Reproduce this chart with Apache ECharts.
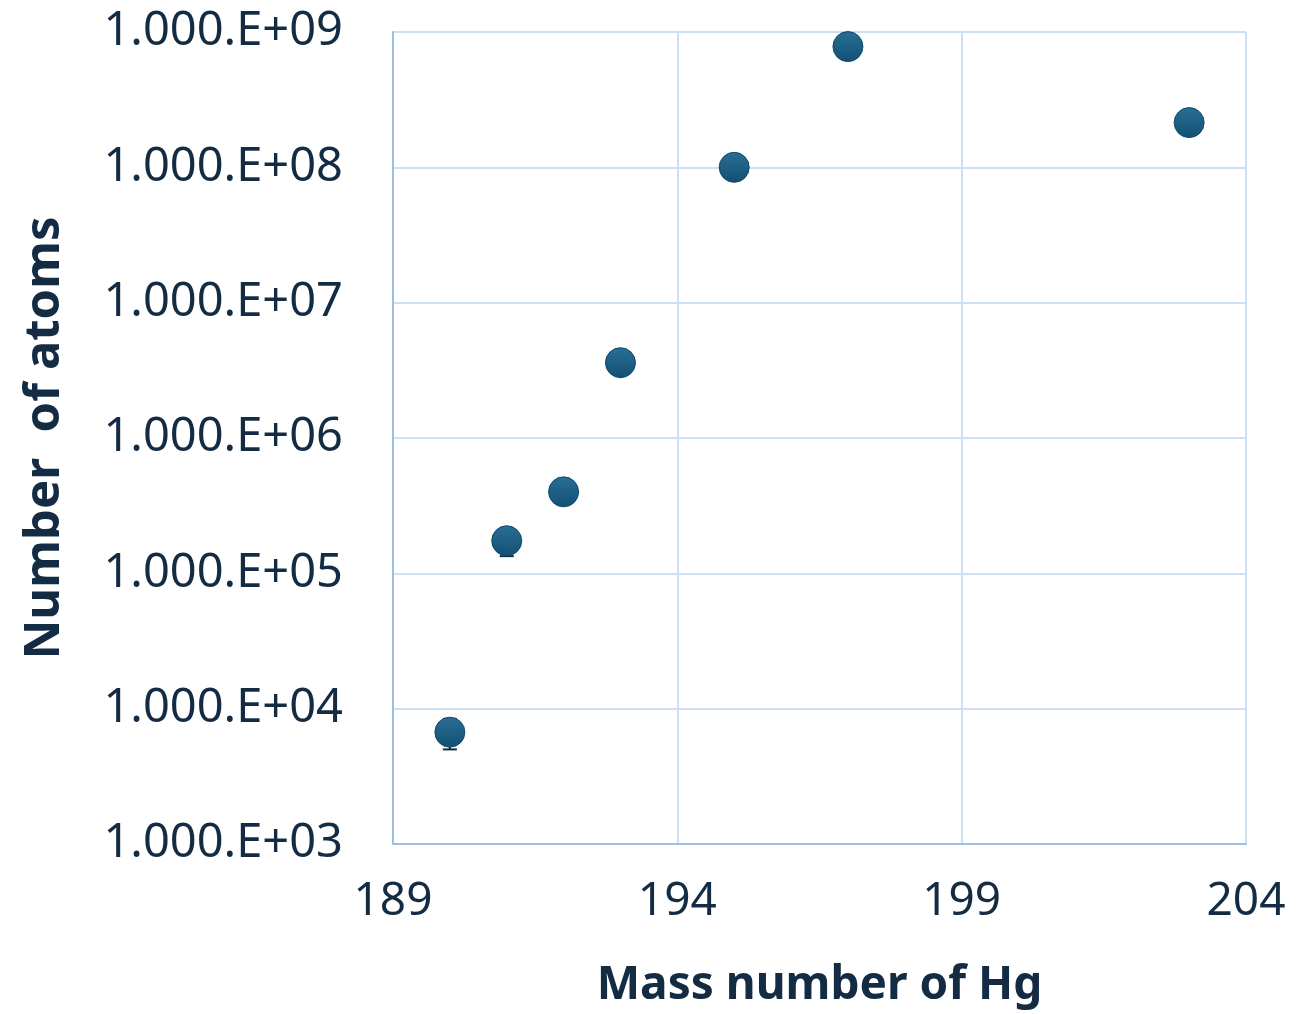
<!DOCTYPE html>
<html>
<head>
<meta charset="utf-8">
<script src="https://cdn.jsdelivr.net/npm/echarts@6/dist/echarts.min.js"></script>
<style>
html,body{margin:0;padding:0;background:#fff;}
#chart{width:1304px;height:1014px;}
</style>
</head>
<body>
<div id="chart"></div>
<script>
// Data
var massNumbers = [190, 191, 192, 193, 195, 197, 203];
var atomCounts = [6.7e3, 1.74e5, 4.0e5, 3.6e6, 1.0e8, 7.8e8, 2.14e8];
var atomErrors = [1.7e3, 0.40e5, 0, 0, 0, 0, 0];
var xTicks = [189, 194, 199, 204];
var yTickLabels = {3:'1.000.E+03',4:'1.000.E+04',5:'1.000.E+05',6:'1.000.E+06',7:'1.000.E+07',8:'1.000.E+08',9:'1.000.E+09'};
var xTitle = 'Mass number of Hg';
var yTitle = 'Number  of atoms';

var textColor = '#132b43';
var labelFont = '"Noto Sans", sans-serif';

var points = massNumbers.map(function(m, i){ return [m, atomCounts[i]]; });
var errData = massNumbers.map(function(m, i){ return [m, atomCounts[i] - atomErrors[i], atomCounts[i] + atomErrors[i]]; });

var chart = echarts.init(document.getElementById('chart'), null, {renderer:'canvas'});
chart.setOption({
  animation: false,
  backgroundColor: '#ffffff',
  grid: {left: 393, right: 58, top: 32, bottom: 167, containLabel: false},
  xAxis: {
    type: 'value', min: xTicks[0], max: xTicks[xTicks.length-1], interval: 5,
    name: xTitle, nameLocation: 'middle', nameGap: 119,
    nameTextStyle: {color: textColor, fontSize: 46, fontWeight: 'bold', fontFamily: labelFont},
    axisLine: {show: true, lineStyle: {color: '#9cbde4', width: 2}},
    axisTick: {show: false},
    axisLabel: {color: textColor, fontSize: 46, fontFamily: labelFont, margin: 35},
    splitLine: {show: true, lineStyle: {color: '#cfdff2', width: 2}}
  },
  yAxis: {
    type: 'log', logBase: 10, min: 1e3, max: 1e9,
    name: yTitle, nameLocation: 'middle', nameGap: 323, nameRotate: 90,
    nameTextStyle: {color: textColor, fontSize: 49, fontWeight: 'bold', fontFamily: labelFont},
    axisLine: {show: true, lineStyle: {color: '#9cbde4', width: 2}},
    axisTick: {show: false},
    axisLabel: {color: textColor, fontSize: 47, fontFamily: labelFont, margin: 50,
      formatter: function(v){ var e = Math.round(Math.log10(v)); return yTickLabels[e] || ''; }},
    splitLine: {show: true, lineStyle: {color: '#cfdff2', width: 2}}
  },
  series: [
    {
      type: 'custom',
      z: 1,
      renderItem: function(params, api){
        var x = api.value(0);
        var lo = api.coord([x, api.value(1)]);
        var hi = api.coord([x, api.value(2)]);
        if (Math.abs(lo[1]-hi[1]) < 0.5) return null;
        var cap = 7;
        return {type:'group', children:[
          {type:'line', shape:{x1:lo[0], y1:lo[1], x2:hi[0], y2:hi[1]}, style:{stroke:'#0f2a3f', lineWidth:2}},
          {type:'line', shape:{x1:lo[0]-cap, y1:lo[1], x2:lo[0]+cap, y2:lo[1]}, style:{stroke:'#0f2a3f', lineWidth:2}},
          {type:'line', shape:{x1:hi[0]-cap, y1:hi[1], x2:hi[0]+cap, y2:hi[1]}, style:{stroke:'#0f2a3f', lineWidth:2}}
        ]};
      },
      data: errData
    },
    {
      type: 'scatter',
      z: 2,
      symbol: 'circle',
      symbolSize: 30,
      itemStyle: {
        opacity: 1,
        color: new echarts.graphic.LinearGradient(0,0,0,1,[
          {offset:0, color:'#2a6e95'},
          {offset:1, color:'#125073'}
        ]),
        borderColor: '#114867', borderWidth: 1
      },
      data: points
    }
  ]
});
</script>
</body>
</html>
